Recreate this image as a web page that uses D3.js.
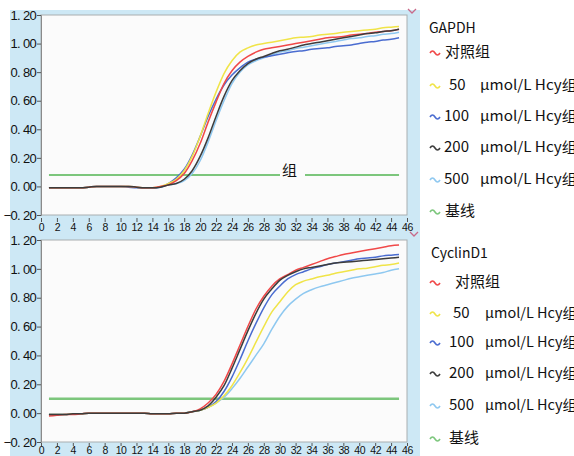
<!DOCTYPE html>
<html><head><meta charset="utf-8">
<script src="https://cdn.jsdelivr.net/npm/d3@7"></script>
<style>body{margin:0;background:#fff;overflow:hidden} svg{display:block}</style>
</head><body><svg id="c" width="574" height="456"></svg>
<script>
// ---- DATA ----
const cycles = [1,2,3,4,5,6,7,8,9,10,11,12,13,14,15,16,17,18,19,20,21,22,23,24,25,26,27,28,29,30,31,32,33,34,35,36,37,38,39,40,41,42,43,44,45];
const xTicks = [0,2,4,6,8,10,12,14,16,18,20,22,24,26,28,30,32,34,36,38,40,42,44,46];
const yTicks = [-0.2,0,0.2,0.4,0.6,0.8,1.0,1.2];
const seriesNames = ["对照组","50","100","200","500"];
const unitLabel = "μmol/L Hcy组";
const baselineLabel = "基线";
const panelTitles = ["GAPDH","CyclinD1"];
const thresholds = [0.08, 0.10];

const gapdhCtrl = [-0.01,-0.01,-0.01,-0.01,-0.01,-0.005,0,0,0,0,0,-0.005,-0.01,-0.01,0,
  0.01,0.04,0.09,0.18,0.30,0.45,0.59,0.72,0.81,0.87,0.91,0.94,0.96,0.97,0.98,
  0.99,1.00,1.01,1.02,1.03,1.04,1.045,1.05,1.06,1.065,1.07,1.08,1.085,1.09,1.10];
const gapdh50 = [-0.01,-0.01,-0.01,-0.01,-0.01,-0.005,0,0,0,0,0,-0.005,-0.01,-0.01,0,
  0.02,0.05,0.11,0.21,0.35,0.51,0.66,0.79,0.88,0.94,0.97,0.99,1.00,1.01,1.02,
  1.03,1.04,1.045,1.05,1.06,1.065,1.07,1.08,1.085,1.09,1.095,1.10,1.11,1.115,1.12];
const gapdh100 = [-0.01,-0.01,-0.01,-0.01,-0.01,-0.005,0,0,0,0,-0.005,-0.01,-0.012,-0.012,-0.005,
  0.02,0.06,0.12,0.22,0.35,0.49,0.61,0.71,0.78,0.83,0.87,0.89,0.905,0.915,0.925,
  0.935,0.945,0.95,0.96,0.965,0.97,0.98,0.985,0.99,1.00,1.01,1.015,1.025,1.03,1.04];
const gapdh200 = [-0.01,-0.01,-0.01,-0.01,-0.01,-0.005,0,0,0,0,0,-0.005,-0.01,-0.01,-0.005,
  0.01,0.02,0.05,0.11,0.21,0.34,0.49,0.63,0.74,0.81,0.86,0.89,0.91,0.93,0.95,
  0.96,0.975,0.99,1.00,1.01,1.02,1.03,1.04,1.05,1.06,1.07,1.075,1.085,1.09,1.10];
const gapdh500 = [-0.01,-0.01,-0.01,-0.01,-0.01,-0.005,0,0,0,0,0,-0.005,-0.01,-0.01,-0.005,
  0.01,0.02,0.04,0.09,0.18,0.31,0.46,0.60,0.72,0.80,0.85,0.88,0.90,0.92,0.94,
  0.95,0.965,0.975,0.985,0.995,1.005,1.015,1.025,1.035,1.04,1.05,1.055,1.065,1.07,1.08];

const cyclinCtrl = [-0.02,-0.015,-0.01,-0.01,-0.005,0,0,0,0,0,0,0,0,-0.005,-0.005,-0.005,0,0,
  0.01,0.03,0.07,0.13,0.22,0.34,0.47,0.60,0.72,0.81,0.88,0.93,0.96,0.99,1.01,
  1.03,1.05,1.07,1.085,1.10,1.11,1.12,1.13,1.14,1.15,1.16,1.165];
const cyclin50 = [-0.01,-0.01,-0.01,-0.005,-0.005,0,0,0,0,0,0,0,0,-0.005,-0.005,-0.005,0,0,
  0.01,0.02,0.04,0.07,0.12,0.19,0.28,0.38,0.49,0.60,0.70,0.77,0.84,0.89,0.915,
  0.93,0.945,0.955,0.97,0.98,0.99,1.00,1.005,1.015,1.025,1.03,1.04];
const cyclin100 = [-0.01,-0.01,-0.01,-0.005,-0.005,0,0,0,0,0,0,0,0,-0.005,-0.005,-0.005,0,0,
  0.01,0.02,0.04,0.08,0.15,0.25,0.37,0.50,0.62,0.73,0.82,0.88,0.93,0.96,0.98,
  1.00,1.015,1.03,1.04,1.05,1.06,1.07,1.075,1.08,1.09,1.095,1.10];
const cyclin200 = [-0.01,-0.01,-0.01,-0.005,-0.005,0,0,0,0,0,0,0,0,-0.005,-0.005,-0.005,0,0,
  0.01,0.02,0.05,0.11,0.19,0.31,0.44,0.57,0.69,0.79,0.86,0.92,0.955,0.98,1.00,
  1.01,1.02,1.03,1.04,1.045,1.05,1.055,1.06,1.065,1.07,1.075,1.08];
const cyclin500 = [-0.01,-0.01,-0.01,-0.005,-0.005,0,0,0,0,0,0,0,0,-0.005,-0.005,-0.005,0,0,
  0.01,0.02,0.04,0.07,0.11,0.17,0.24,0.32,0.40,0.48,0.58,0.67,0.74,0.79,0.83,
  0.855,0.875,0.89,0.905,0.92,0.935,0.945,0.955,0.965,0.975,0.99,1.00];

const colors = ["#f04848","#f0e448","#4a6cd0","#3c3c3c","#8ec8f0"];
const baseColor = "#7cc67c";

// ---- LAYOUT ----
const svg = d3.select("#c");
const frameColor = "#cde8f5";
svg.append("rect").attr("x",10).attr("y",10).attr("width",410).attr("height",446).attr("fill",frameColor);

const x = d3.scaleLinear().domain([0,46]).range([41,407]);
const panels = [
  {y0:15, y1:215, data:[gapdhCtrl,gapdh50,gapdh100,gapdh200,gapdh500], thr:thresholds[0], title:panelTitles[0],
   ax:{off:3,size:4,pad:2},
   leg:{title:[429,33], rows:[57,90,121,152,184,216], numX:[445,449,444,444,444,445], unitX:480, unitLen:97}, chev:[408,9], gap:true},
  {y0:240, y1:442, data:[cyclinCtrl,cyclin50,cyclin100,cyclin200,cyclin500], thr:thresholds[1], title:panelTitles[1],
   ax:{off:1,size:3,pad:1},
   leg:{title:[431,258], rows:[287,318,347,378,410,443], numX:[455,453,449,449,449,449], unitX:485, unitLen:92}, chev:[410,232], gap:false}
];

panels.forEach((p,pi)=>{
  const y = d3.scaleLinear().domain([-0.2,1.2]).range([p.y1,p.y0]);
  const g = svg.append("g");
  g.append("rect").attr("x",x(0)).attr("y",p.y0).attr("width",x(46)-x(0)).attr("height",p.y1-p.y0)
    .attr("fill","#fbfbfb").attr("stroke","#a9aeb0").attr("stroke-width",1);

  // y axis
  const ya = g.append("g").attr("transform",`translate(${x(0)},0)`)
    .call(d3.axisLeft(y).tickValues(yTicks).tickSize(4).tickPadding(1)
      .tickFormat(d=>d3.format(".2f")(d).replace(".",". ")));
  ya.select(".domain").attr("stroke","#8a8a8a");
  ya.selectAll(".tick line").attr("stroke","#555");
  ya.selectAll("text").attr("font-family","Liberation Sans, Arial, sans-serif").attr("font-size",13)
    .attr("letter-spacing",-0.7).attr("fill","#111");

  // x axis
  const xa = g.append("g").attr("transform",`translate(0,${p.y1+p.ax.off})`)
    .call(d3.axisBottom(x).tickValues(xTicks).tickSize(p.ax.size).tickPadding(p.ax.pad).tickFormat(d3.format("d")));
  xa.select(".domain").remove();
  xa.selectAll(".tick line").attr("stroke","#555");
  xa.selectAll("text").attr("font-family","Liberation Sans, Arial, sans-serif").attr("font-size",10.5)
    .attr("letter-spacing",-0.4).attr("fill","#111");

  // threshold
  g.append("line").attr("x1",x(cycles[0])).attr("x2",x(cycles[cycles.length-1]))
    .attr("y1",y(p.thr)).attr("y2",y(p.thr)).attr("stroke",baseColor).attr("stroke-width",pi?2.5:1.8);
  if(p.gap){
    g.append("rect").attr("x",280).attr("y",y(p.thr)-3).attr("width",25).attr("height",6).attr("fill","#fbfbfb");
    g.append("text").attr("x",282).attr("y",y(p.thr)+1).text("组")
      .attr("font-family","Noto Sans CJK SC").attr("font-size",15).attr("fill","#111");
  }

  // curves
  const line = d3.line().x((d,i)=>x(cycles[i])).y(d=>y(d)).curve(d3.curveMonotoneX);
  const order = [4,2,1,0,3];
  order.forEach(si=>{
    g.append("path").datum(p.data[si]).attr("d",line).attr("fill","none")
      .attr("stroke",colors[si]).attr("stroke-width",1.5);
  });

  // chevron
  g.append("path").attr("d",`M${p.chev[0]},${p.chev[1]} l4,4 l4,-4`).attr("fill","none")
    .attr("stroke","#c86a8a").attr("stroke-width",1.3);

  // legend
  const L = p.leg;
  g.append("text").attr("x",L.title[0]).attr("y",L.title[1]).text(p.title)
    .attr("font-family","Noto Sans CJK SC").attr("font-size",14).attr("fill","#111");
  const labels = seriesNames.concat([baselineLabel]);
  const icol = colors.concat([baseColor]);
  labels.forEach((lab,i)=>{
    const by = L.rows[i];
    g.append("path").attr("d",`M430,${by-4} q2.5,-4 5,0 t5,0`).attr("fill","none")
      .attr("stroke",icol[i]).attr("stroke-width",1.6);
    g.append("text").attr("x",L.numX[i]).attr("y",by).text(lab)
      .attr("font-family","Noto Sans CJK SC").attr("font-size",15).attr("fill","#111");
    if(i>=1 && i<=4){
      g.append("text").attr("x",L.unitX).attr("y",by).text(unitLabel)
        .attr("font-family","Noto Sans CJK SC").attr("font-size",14).attr("fill","#111")
        .attr("textLength",L.unitLen).attr("lengthAdjust","spacingAndGlyphs");
    }
  });
});
</script></body></html>
